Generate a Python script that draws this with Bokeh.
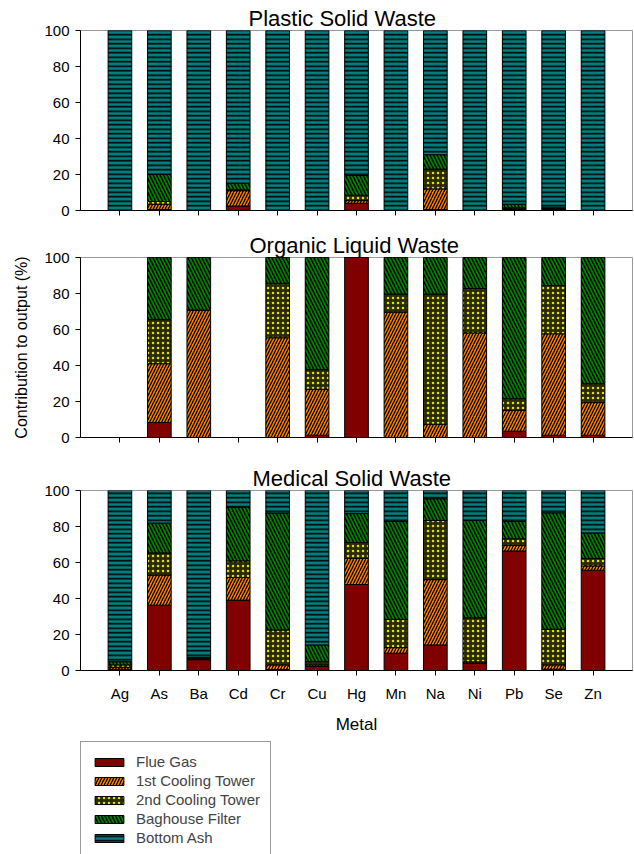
from bokeh.plotting import figure
from bokeh.models import ColumnDataSource, Range1d, FixedTicker, Legend, LegendItem
from bokeh.layouts import column
from bokeh.embed import file_html
from bokeh.resources import INLINE

metals = ["Ag", "As", "Ba", "Cd", "Cr", "Cu", "Hg", "Mn", "Na", "Ni", "Pb", "Se", "Zn"]
series_names = ["Flue Gas", "1st Cooling Tower", "2nd Cooling Tower", "Baghouse Filter", "Bottom Ash"]
y_ticks = [0, 20, 40, 60, 80, 100]

# Plastic Solid Waste (%)
psw_fg = [0, 0.5, 0, 2.5, 0, 0, 4.0, 0, 0.5, 0, 0.5, 0.5, 0]
psw_ct1 = [0, 3.0, 0, 8.5, 0, 0, 1.5, 0, 11.5, 0, 0.5, 0.5, 0]
psw_ct2 = [0, 1.5, 0, 0.5, 0, 0, 3.0, 0, 11.0, 0, 0.5, 0.3, 0]
psw_bf = [0, 15.0, 0, 3.5, 0, 0, 11.0, 0, 8.0, 0, 2.0, 0.2, 0]
psw_ba = [100, 80.0, 100, 85.0, 100, 100, 80.5, 100, 69.0, 100, 96.5, 98.5, 100]

# Organic Liquid Waste (%)
olw_fg = [0, 8.3, 0, 0, 0, 1.3, 100, 0, 0, 0, 3.5, 1.3, 1.3]
olw_ct1 = [0, 32.7, 70.8, 0, 55.4, 25.5, 0, 69.6, 7.4, 58.1, 11.6, 56.3, 18.1]
olw_ct2 = [0, 24.5, 0, 0, 30.3, 10.9, 0, 10.1, 72.3, 24.7, 6.5, 26.8, 10.5]
olw_bf = [0, 34.5, 29.2, 0, 14.3, 62.3, 0, 20.3, 20.3, 17.2, 78.4, 15.6, 70.1]
olw_ba = [0, 0, 0, 0, 0, 0, 0, 0, 0, 0, 0, 0, 0]

# Medical Solid Waste (%)
msw_fg = [0.7, 36.3, 6.0, 39.1, 0.5, 2.2, 47.8, 9.6, 14.2, 4.1, 66.4, 0.7, 55.7]
msw_ct1 = [1.1, 16.7, 0.5, 12.6, 2.6, 0.9, 14.4, 3.1, 36.3, 0.7, 3.1, 2.4, 2.4]
msw_ct2 = [1.3, 12.3, 0.3, 9.2, 19.4, 1.8, 8.9, 15.7, 32.9, 24.5, 3.7, 19.8, 4.1]
msw_bf = [1.8, 16.6, 0.5, 29.9, 65.0, 9.3, 16.1, 54.4, 12.0, 54.1, 9.6, 64.7, 14.2]
msw_ba = [95.1, 18.1, 92.7, 9.2, 12.5, 85.8, 12.8, 17.2, 4.6, 16.6, 17.2, 12.4, 23.6]

FONT = "Liberation Sans"
xs = list(range(1, len(metals) + 1))
keys = ["fg", "ct1", "ct2", "bf", "ba"]

fill_colors = ["#800000", "#ff8000", "#2a2a00", "#008000", "#008080"]
hatch_patterns = [None, "/", ".", "\\", "-"]
hatch_colors = ["black", "black", "#e0e000", "black", "black"]
hatch_scales = [6, 6, 5, 7, 4.5]
hatch_weights = [1, 1.3, 1.9, 1.4, 1.6]


def make_panel(title, data, title_offset, top_border, bottom_border, show_labels, ylabel=None):
    src = ColumnDataSource(dict(x=xs, **dict(zip(keys, data))))
    p = figure(frame_width=552, frame_height=180,
               x_range=Range1d(0, 14), y_range=Range1d(0, 100),
               toolbar_location=None, output_backend="svg",
               min_border_left=80, min_border_right=2,
               min_border_top=top_border, min_border_bottom=bottom_border)
    p.title.text = title
    p.title.text_font = FONT
    p.title.text_font_size = "22px"
    p.title.text_font_style = "normal"
    p.title.text_color = "black"
    p.title.align = "left"
    p.title.offset = title_offset
    p.title.standoff = 0
    p.vbar_stack(keys, x="x", width=0.6, source=src,
                 fill_color=fill_colors, hatch_pattern=hatch_patterns,
                 hatch_color=hatch_colors, hatch_scale=hatch_scales,
                 hatch_weight=hatch_weights, line_color="black", line_width=1)
    p.grid.visible = False
    p.outline_line_color = "#999999"
    p.yaxis.ticker = FixedTicker(ticks=y_ticks)
    for ax in (p.xaxis, p.yaxis):
        ax.axis_line_color = "black"
        ax.major_tick_line_color = "black"
        ax.major_tick_in = 0
        ax.major_tick_out = 5
        ax.minor_tick_line_color = None
        ax.major_label_text_font = FONT
        ax.major_label_text_font_size = "15px"
        ax.major_label_text_color = "black"
        ax.axis_label_text_font = FONT
        ax.axis_label_text_font_style = "normal"
        ax.axis_label_text_color = "black"
    p.yaxis.major_label_standoff = 6
    if show_labels:
        p.xaxis.ticker = FixedTicker(ticks=xs)
        p.xaxis.major_label_overrides = {x: m for x, m in zip(xs, metals)}
        p.xaxis.major_label_standoff = 9
        p.xaxis.axis_label = "Metal"
        p.xaxis.axis_label_text_font_size = "17px"
        p.xaxis.axis_label_standoff = 10
    else:
        # tick marks only, no labels
        p.xaxis.ticker = FixedTicker(ticks=[], minor_ticks=xs)
        p.xaxis.minor_tick_line_color = "black"
        p.xaxis.minor_tick_in = 0
        p.xaxis.minor_tick_out = 5
    if ylabel:
        p.yaxis.axis_label = ylabel
        p.yaxis.axis_label_text_font_size = "16px"
        p.yaxis.axis_label_standoff = 11
    return p


p1 = make_panel("Plastic Solid Waste", [psw_fg, psw_ct1, psw_ct2, psw_bf, psw_ba], 168, 30, 20, False)
p2 = make_panel("Organic Liquid Waste", [olw_fg, olw_ct1, olw_ct2, olw_bf, olw_ba], 169, 0, 26, False,
                ylabel="Contribution to output (%)")
p3 = make_panel("Medical Solid Waste", [msw_fg, msw_ct1, msw_ct2, msw_bf, msw_ba], 172, 0, 65, True)

# Legend panel (swatches are hidden under the opaque legend box)
lp = figure(width=634, height=119, x_range=Range1d(0, 1), y_range=Range1d(0, 1),
            toolbar_location=None, output_backend="svg",
            x_axis_location=None, y_axis_location=None,
            min_border_left=80, min_border_top=5, min_border_bottom=0, min_border_right=0)
lp.grid.visible = False
lp.outline_line_color = None
items = []
for i, name in enumerate(series_names):
    r = lp.vbar(x=[0.1], bottom=[0.6], top=[0.7], width=0.02, fill_color=fill_colors[i],
                hatch_pattern=hatch_patterns[i], hatch_color=hatch_colors[i],
                hatch_scale=hatch_scales[i], hatch_weight=hatch_weights[i],
                line_color="black", line_width=1)
    items.append(LegendItem(label=name, renderers=[r]))
leg = Legend(items=items, location="top_left", margin=0, padding=10, spacing=0,
             glyph_width=36, glyph_height=10, label_height=19, label_standoff=9,
             label_text_font=FONT, label_text_font_size="15px",
             border_line_color="#333333", border_line_width=1,
             background_fill_color="white", background_fill_alpha=1)
lp.add_layout(leg)

layout = column(p1, p2, p3, lp, spacing=0)
open("out.html", "w").write(file_html(layout, INLINE))
